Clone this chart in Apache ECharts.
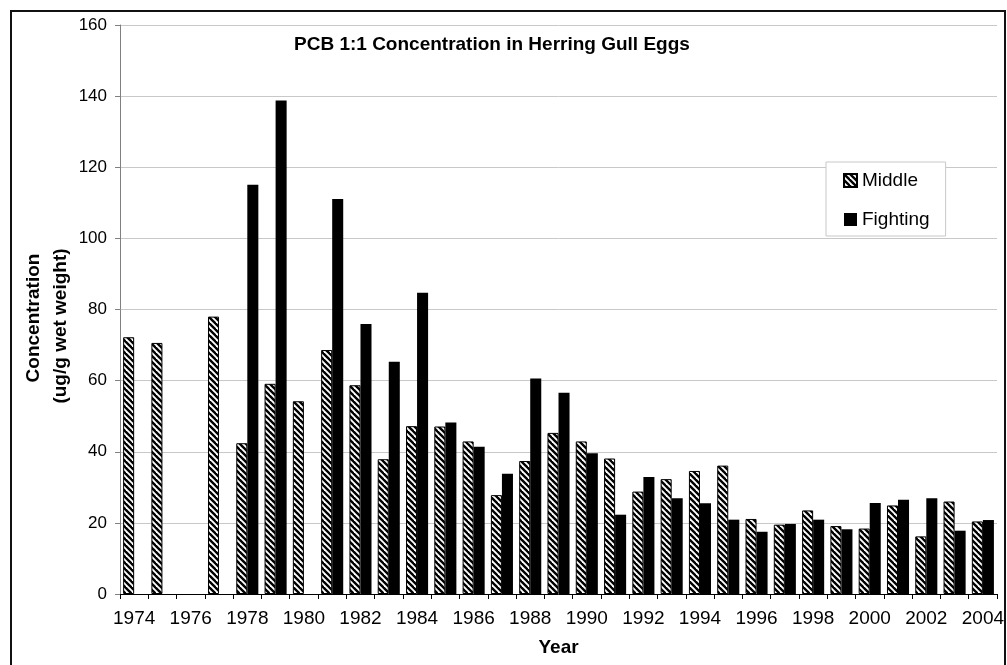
<!DOCTYPE html>
<html>
<head>
<meta charset="utf-8">
<title>PCB 1:1 Concentration in Herring Gull Eggs</title>
<script src="https://cdn.jsdelivr.net/npm/echarts@6/dist/echarts.min.js"></script>
<style>
  html, body { margin: 0; padding: 0; background: #ffffff; }
  #chart { width: 1007px; height: 665px; }
</style>
</head>
<body>
<div id="chart"></div>
<script>
// Sampling years (one category per year)
const years = ['1974','1975','1976','1977','1978','1979','1980','1981','1982','1983',
  '1984','1985','1986','1987','1988','1989','1990','1991','1992','1993','1994',
  '1995','1996','1997','1998','1999','2000','2001','2002','2003','2004'];

// PCB 1:1 concentration (ug/g wet weight), Middle Island colony
const middle = [72.2, 70.6, null, 78.0, 42.4, 59.1, 54.2, 68.6, 58.7, 37.9,
  47.2, 47.1, 42.9, 27.8, 37.4, 45.3, 42.9, 38.1, 28.8, 32.3, 34.6,
  36.1, 21.1, 19.5, 23.5, 19.1, 18.4, 24.9, 16.2, 26.0, 20.4];

// PCB 1:1 concentration (ug/g wet weight), Fighting Island colony
const fighting = [null, null, null, null, 115.1, 138.8, null, 111.1, 75.9, 65.3,
  84.7, 48.2, 41.4, 33.8, 60.6, 56.6, 39.6, 22.3, 32.9, 26.9, 25.5,
  20.9, 17.5, 19.7, 20.9, 18.2, 25.6, 26.5, 26.9, 17.8, 20.8];

const yTicks = { min: 0, max: 160, step: 20 };

const FONT = '"Liberation Sans", Arial, Helvetica, sans-serif';

// Diagonal hatch fill for the Middle series
function hatchPattern() {
  const size = 6;
  const c = document.createElement('canvas');
  c.width = size; c.height = size;
  const ctx = c.getContext('2d');
  ctx.fillStyle = '#ffffff';
  ctx.fillRect(0, 0, size, size);
  ctx.strokeStyle = '#000000';
  ctx.lineWidth = 2.4;
  for (const k of [-size, 0, size]) {
    ctx.beginPath();
    ctx.moveTo(k - 1, -1);
    ctx.lineTo(k + size + 1, size + 1);
    ctx.stroke();
  }
  return c;
}

const chart = echarts.init(document.getElementById('chart'), null, { renderer: 'canvas' });

chart.setOption({
  animation: false,
  backgroundColor: '#ffffff',
  title: {
    text: 'PCB 1:1 Concentration in Herring Gull Eggs',
    left: 289,
    top: 30,
    textStyle: { fontFamily: FONT, fontSize: 19, fontWeight: 'bold', color: '#000' }
  },
  legend: {
    orient: 'vertical',
    left: 826,
    top: 162,
    padding: [9, 16, 7, 17],
    itemWidth: 13,
    itemHeight: 13,
    itemGap: 20,
    icon: 'rect',
    backgroundColor: '#ffffff',
    borderColor: '#c8c8c8',
    borderWidth: 1,
    borderRadius: 0,
    textStyle: { fontFamily: FONT, fontSize: 19, color: '#000', lineHeight: 19 },
    data: ['Middle', 'Fighting']
  },
  grid: { left: 120, right: 9, top: 25, bottom: 71, containLabel: false },
  xAxis: {
    type: 'category',
    data: years,
    boundaryGap: true,
    name: 'Year',
    nameLocation: 'middle',
    nameGap: 44,
    nameTextStyle: { fontFamily: FONT, fontSize: 19, fontWeight: 'bold', color: '#000' },
    axisLine: { lineStyle: { color: '#000', width: 1 } },
    axisTick: { show: true, interval: 0, length: 5, lineStyle: { color: '#000' } },
    axisLabel: { interval: 1, margin: 15, fontFamily: FONT, fontSize: 19, color: '#000' },
    splitLine: { show: false }
  },
  yAxis: {
    type: 'value',
    min: yTicks.min,
    max: yTicks.max,
    interval: yTicks.step,
    axisLine: { show: true, lineStyle: { color: '#808080', width: 1 } },
    axisTick: { show: true, length: 5, lineStyle: { color: '#808080' } },
    axisLabel: { margin: 13, fontFamily: FONT, fontSize: 17, color: '#000' },
    splitLine: { show: true, lineStyle: { color: '#c8c8c8', width: 1 } }
  },
  series: [
    {
      name: 'Middle',
      type: 'bar',
      data: middle,
      barGap: '0%',
      barCategoryGap: '22%',
      itemStyle: {
        color: { image: hatchPattern(), repeat: 'repeat' },
        borderColor: '#000',
        borderWidth: 1
      }
    },
    {
      name: 'Fighting',
      type: 'bar',
      data: fighting,
      barGap: '0%',
      barCategoryGap: '22%',
      itemStyle: { color: '#000', borderColor: '#000', borderWidth: 0 }
    }
  ],
  graphic: [
    {
      type: 'rect',
      shape: { x: 11, y: 11, width: 994, height: 670 },
      style: { fill: 'none', stroke: '#111', lineWidth: 2 },
      silent: true
    },
    {
      type: 'text',
      x: 34, y: 318,
      rotation: Math.PI / 2,
      style: {
        text: 'Concentration',
        fontFamily: FONT, fontSize: 19, fontWeight: 'bold', fill: '#000',
        textAlign: 'center', textVerticalAlign: 'middle'
      }
    },
    {
      type: 'text',
      x: 61, y: 326,
      rotation: Math.PI / 2,
      style: {
        text: '(ug/g wet weight)',
        fontFamily: FONT, fontSize: 19, fontWeight: 'bold', fill: '#000',
        textAlign: 'center', textVerticalAlign: 'middle'
      }
    }
  ]
});
</script>
</body>
</html>
